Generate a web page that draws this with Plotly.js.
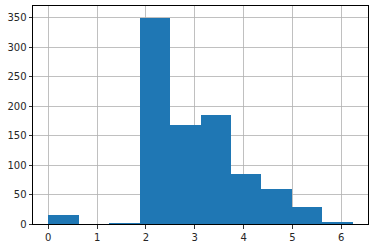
<!DOCTYPE html>
<html>
<head>
<meta charset="utf-8">
<script src="https://cdn.plot.ly/plotly-3.0.1.min.js"></script>
<style>html,body{margin:0;padding:0;background:#fff;}#chart{width:375px;height:248px;}</style>
</head>
<body>
<div id="chart"></div>
<script>
// Histogram: 10 equal bins from binStart to binEnd
var binStart = 0.0;
var binEnd = 6.235;
var counts = [15, 0, 2, 350, 168, 184, 85, 60, 29, 4];
var xTicks = [0, 1, 2, 3, 4, 5, 6];
var yTicks = [0, 50, 100, 150, 200, 250, 300, 350];
var yLimit = 369.6;

var nBins = counts.length;
var binSize = (binEnd - binStart) / nBins;
var centers = counts.map(function(_, i){ return binStart + binSize * (i + 0.5); });

var trace = {
  type: 'bar',
  x: centers,
  y: counts,
  width: binSize,
  marker: {color: '#1f77b4', line: {width: 0}},
  hoverinfo: 'skip'
};

var xPad = (binEnd - binStart) * 0.05;

var axisCommon = {
  showline: true, mirror: true, linecolor: '#000', linewidth: 1,
  ticks: 'outside', ticklen: 3.5, tickwidth: 0.8, tickcolor: '#000',
  showgrid: true, gridcolor: '#b0b0b0', gridwidth: 0.8,
  zeroline: false, layer: 'above traces',
  tickfont: {family: 'DejaVu Sans', size: 10, color: '#262626'}
};

var layout = {
  width: 375, height: 248,
  margin: {l: 33, r: 7, t: 6, b: 24, pad: 0},
  paper_bgcolor: '#fff', plot_bgcolor: '#fff',
  showlegend: false,
  bargap: 0,
  xaxis: Object.assign({}, axisCommon, {
    range: [binStart - xPad, binEnd + xPad],
    tickmode: 'array', tickvals: xTicks, ticktext: xTicks.map(String)
  }),
  yaxis: Object.assign({}, axisCommon, {
    range: [0, yLimit],
    tickmode: 'array', tickvals: yTicks, ticktext: yTicks.map(String)
  })
};

Plotly.newPlot('chart', [trace], layout, {staticPlot: true, displayModeBar: false});
</script>
</body>
</html>
